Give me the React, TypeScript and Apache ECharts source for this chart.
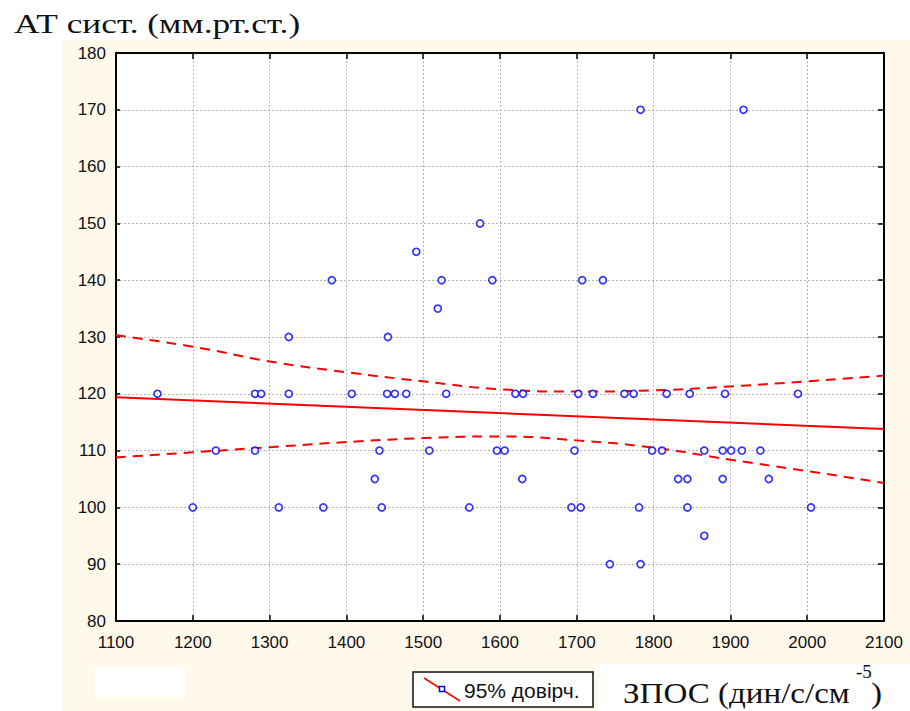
import React, { useEffect, useRef } from "react";
import * as echarts from "echarts";

// Axis ranges
const X_MIN = 1100;
const X_MAX = 2100;
const X_STEP = 100;
const Y_MIN = 80;
const Y_MAX = 180;
const Y_STEP = 10;

// Scatter points: ЗПОС (x) and АТ сист. (y)
const pointsX = [
  1783, 1917,
  1574,
  1491,
  1381, 1524, 1590, 1707, 1734,
  1519,
  1325, 1454,
  1154, 1281, 1289, 1325, 1407, 1453, 1463, 1478, 1530, 1620, 1630, 1702, 1721, 1762, 1774, 1817, 1847, 1893, 1988,
  1230, 1281, 1443, 1508, 1596, 1606, 1697, 1798, 1811, 1866, 1890, 1901, 1915, 1939,
  1437, 1629, 1832, 1844, 1890, 1950,
  1200, 1312, 1370, 1446, 1560, 1693, 1705, 1781, 1844, 2005,
  1866,
  1743, 1783,
];
const pointsY = [
  170, 170,
  150,
  145,
  140, 140, 140, 140, 140,
  135,
  130, 130,
  120, 120, 120, 120, 120, 120, 120, 120, 120, 120, 120, 120, 120, 120, 120, 120, 120, 120, 120,
  110, 110, 110, 110, 110, 110, 110, 110, 110, 110, 110, 110, 110, 110,
  105, 105, 105, 105, 105, 105,
  100, 100, 100, 100, 100, 100, 100, 100, 100, 100,
  95,
  90, 90,
];

// Regression line (read at both ends)
const fitX = [1100, 2100];
const fitY = [119.4, 113.8];

// 95% confidence band, read every 100 units
const bandX = [1100, 1200, 1300, 1400, 1500, 1600, 1700, 1800, 1900, 2000, 2100];
const bandUpper = [130.3, 128.3, 125.7, 123.8, 122.2, 120.8, 120.4, 120.6, 121.3, 122.2, 123.2];
const bandLower = [108.8, 109.7, 110.6, 111.5, 112.2, 112.5, 111.8, 110.5, 108.4, 106.4, 104.3];

const TITLE = "АТ сист. (мм.рт.ст.)";
const X_NAME = "ЗПОС (дин/с/см";
const X_NAME_SUP = "-5";
const LEGEND_TEXT = "95% довірч.";

const SANS = "'Liberation Sans', Arial, sans-serif";
const SERIF = "'Liberation Serif', 'Times New Roman', serif";

export default function App() {
  const ref = useRef<HTMLDivElement>(null);

  useEffect(() => {
    if (!ref.current) return;
    const chart = echarts.init(ref.current, null, { renderer: "svg" });

    const pts = pointsX.map((x, i) => [x, pointsY[i]]);
    const fit = fitX.map((x, i) => [x, fitY[i]]);
    const up = bandX.map((x, i) => [x, bandUpper[i]]);
    const lo = bandX.map((x, i) => [x, bandLower[i]]);

    const tickStyle = { show: true, inside: true, length: 6, lineStyle: { color: "#000", width: 1.5 } };
    const lineStyleAxis = { show: true, onZero: false, lineStyle: { color: "#000", width: 2 } };
    const plain = (v: number) => String(v);

    chart.setOption({
      animation: false,
      backgroundColor: "#ffffff",
      grid: {
        left: 116,
        right: 26,
        top: 53,
        bottom: 90,
        show: true,
        backgroundColor: "#ffffff",
        borderWidth: 0,
      },
      xAxis: [
        {
          type: "value",
          min: X_MIN,
          max: X_MAX,
          interval: X_STEP,
          position: "bottom",
          axisLine: lineStyleAxis,
          axisTick: tickStyle,
          axisLabel: { color: "#111", fontFamily: SANS, fontSize: 17, margin: 13, formatter: plain },
          splitLine: { show: true, lineStyle: { color: "#b4b4b4", type: [2, 2], width: 1 } },
        },
        {
          type: "value",
          min: X_MIN,
          max: X_MAX,
          interval: X_STEP,
          position: "top",
          axisLine: lineStyleAxis,
          axisTick: tickStyle,
          axisLabel: { show: false },
          splitLine: { show: false },
        },
      ],
      yAxis: [
        {
          type: "value",
          min: Y_MIN,
          max: Y_MAX,
          interval: Y_STEP,
          position: "left",
          axisLine: lineStyleAxis,
          axisTick: { ...tickStyle, length: 4 },
          axisLabel: { color: "#111", fontFamily: SANS, fontSize: 17, margin: 10, formatter: plain },
          splitLine: { show: true, lineStyle: { color: "#b4b4b4", type: [2, 2], width: 1 } },
        },
        {
          type: "value",
          min: Y_MIN,
          max: Y_MAX,
          interval: Y_STEP,
          position: "right",
          axisLine: lineStyleAxis,
          axisTick: tickStyle,
          axisLabel: { show: false },
          splitLine: { show: false },
        },
      ],
      graphic: {
        elements: [
          { type: "rect", z: -20, shape: { x: 63, y: 40, width: 847, height: 671 }, style: { fill: "#fff9ec" } },
          { type: "rect", z: -19, shape: { x: 598, y: 664, width: 312, height: 47 }, style: { fill: "#ffffff" } },
          { type: "rect", z: -19, shape: { x: 95, y: 668, width: 90, height: 29 }, style: { fill: "#ffffff" } },
          {
            type: "text",
            z: 10,
            x: 14,
            y: 24,
            scaleX: 1.26,
            style: { text: TITLE, font: `28px ${SERIF}`, fill: "#111", textVerticalAlign: "middle" },
          },
          {
            type: "text",
            z: 10,
            x: 623,
            y: 693,
            scaleX: 1.14,
            style: { text: X_NAME, font: `29px ${SERIF}`, fill: "#111", textVerticalAlign: "middle" },
          },
          {
            type: "text",
            z: 10,
            x: 856,
            y: 671,
            style: { text: X_NAME_SUP, font: `19px ${SERIF}`, fill: "#111", textVerticalAlign: "middle" },
          },
          {
            type: "text",
            z: 10,
            x: 871,
            y: 693,
            scaleX: 1.14,
            style: { text: ")", font: `29px ${SERIF}`, fill: "#111", textVerticalAlign: "middle" },
          },
          // legend
          { type: "rect", z: 10, shape: { x: 413, y: 672, width: 180, height: 35 }, style: { fill: "#ffffff", stroke: "#111", lineWidth: 1.5 } },
          { type: "line", z: 11, shape: { x1: 424, y1: 678, x2: 460, y2: 701 }, style: { stroke: "#ff0000", lineWidth: 1.5 } },
          { type: "rect", z: 12, shape: { x: 439.5, y: 686.5, width: 5, height: 5 }, style: { fill: "#ffffff", stroke: "#0000ff", lineWidth: 1.5 } },
          {
            type: "text",
            z: 12,
            x: 464,
            y: 690,
            style: { text: LEGEND_TEXT, font: `21px ${SANS}`, fill: "#111", textVerticalAlign: "middle" },
          },
        ],
      },
      series: [
        {
          type: "line",
          data: fit,
          showSymbol: false,
          symbol: "none",
          lineStyle: { color: "#ff0000", width: 2 },
          z: 3,
        },
        {
          type: "line",
          data: up,
          smooth: true,
          symbol: "none",
          lineStyle: { color: "#ff0000", width: 2, type: [10, 7] },
          z: 3,
        },
        {
          type: "line",
          data: lo,
          smooth: true,
          symbol: "none",
          lineStyle: { color: "#ff0000", width: 2, type: [10, 7] },
          z: 3,
        },
        {
          type: "scatter",
          data: pts,
          symbol: "circle",
          symbolSize: 7,
          itemStyle: { color: "#ffffff", borderColor: "#0000ff", borderWidth: 1.7 },
          z: 5,
        },
      ],
    });

    return () => chart.dispose();
  }, []);

  return (
    <div
      ref={ref}
      style={{ position: "absolute", left: 0, top: 0, width: 910, height: 711 }}
    />
  );
}
